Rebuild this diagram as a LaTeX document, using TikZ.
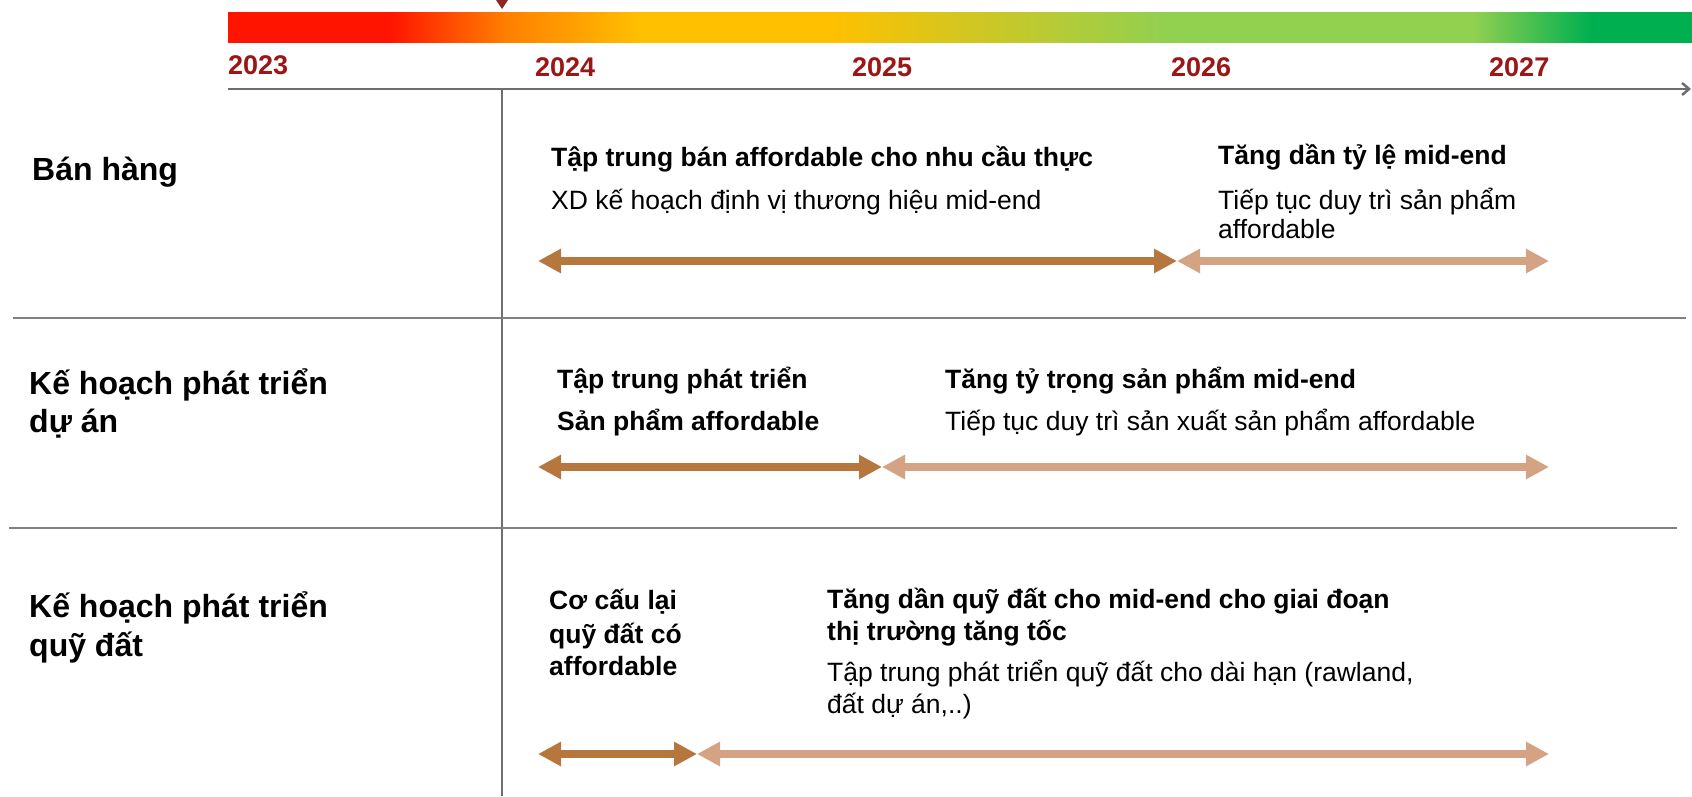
\documentclass[tikz,border=0pt]{standalone}
\usepackage{fontspec}
\setmainfont{Liberation Sans}
\usetikzlibrary{arrows.meta}

\definecolor{barRed}{HTML}{FF1400}
\definecolor{barOrange}{HTML}{FF7F00}
\definecolor{barYellow}{HTML}{FFC000}
\definecolor{barLime}{HTML}{92D050}
\definecolor{barGreen}{HTML}{00B050}
\definecolor{yearRed}{HTML}{9C1616}
\definecolor{markRed}{HTML}{8E2424}
\definecolor{axisGray}{HTML}{6E6E6E}
\definecolor{ruleGray}{HTML}{808080}
\definecolor{arrowDark}{HTML}{B5773E}
\definecolor{arrowLight}{HTML}{D4A384}

% colour scale of the year bar (central 50bp are mapped onto the bar)
\pgfdeclarehorizontalshading{yearbar}{100bp}{%
  color(0bp)=(barRed); color(30.5bp)=(barRed);
  color(34.5bp)=(barOrange); color(39.1bp)=(barYellow);
  color(45.6bp)=(barYellow); color(57bp)=(barLime);
  color(67.5bp)=(barLime); color(71.5bp)=(barGreen);
  color(100bp)=(barGreen)}

\tikzset{
  rowtitle/.style={anchor=base west, inner sep=0pt,
    font=\fontsize{32}{38}\selectfont\bfseries},
  headtext/.style={anchor=base west, inner sep=0pt,
    font=\fontsize{26.5}{32}\selectfont\bfseries},
  bodytext/.style={anchor=base west, inner sep=0pt,
    font=\fontsize{26.5}{32}\selectfont},
  yearlabel/.style={anchor=base west, inner sep=0pt, text=yearRed,
    font=\fontsize{27}{32}\selectfont\bfseries},
  phasedark/.style={draw=arrowDark, line width=8pt,
    {Triangle[length=23pt,width=23pt]}-{Triangle[length=23pt,width=23pt]}},
  phaselight/.style={draw=arrowLight, line width=8pt,
    {Triangle[length=23pt,width=23pt]}-{Triangle[length=23pt,width=23pt]}},
  gridrule/.style={draw=ruleGray, line width=1.5pt},
}

\begin{document}
\begin{tikzpicture}[x=1pt, y=-1pt]
\useasboundingbox (0,0) rectangle (1692,796);
\fill[white] (0,0) rectangle (1692,796);

% year bar and current-position marker
\shade[shading=yearbar] (228,12) rectangle (1692,42);
\fill[markRed] (496,0) -- (508,0) -- (502,9) -- cycle;

% years
\node[yearlabel] (y2023) at (228,74.5) {2023};
\node[yearlabel] (y2024) at (535,76) {2024};
\node[yearlabel] (y2025) at (852,76) {2025};
\node[yearlabel] (y2026) at (1171,76) {2026};
\node[yearlabel] (y2027) at (1489,76) {2027};

% time axis and grid
\coordinate (axisL) at (228,89);
\coordinate (axisR) at (1691,89);
\coordinate (nowTop) at (502,89);
\coordinate (nowBot) at (502,796);
\draw[draw=axisGray, line width=2.5pt, -{Straight Barb[length=7pt,width=12pt]}] (axisL) -- (axisR);
\draw[draw=axisGray, line width=1.5pt] (nowTop) -- (nowBot);
\coordinate (sepAL) at (13,318);
\coordinate (sepAR) at (1686,318);
\coordinate (sepBL) at (9,528);
\coordinate (sepBR) at (1677,528);
\draw[gridrule] (sepAL) -- (sepAR);
\draw[gridrule] (sepBL) -- (sepBR);

% row titles
\node[rowtitle] (salesT) at (32,180) {Bán hàng};
\node[rowtitle] (projT1) at (29,394) {Kế hoạch phát triển};
\node[rowtitle] (projT2) at (29,432) {dự án};
\node[rowtitle] (landT1) at (29,617) {Kế hoạch phát triển};
\node[rowtitle] (landT2) at (29,656) {quỹ đất};

% sales row
\node[headtext] (salesA1) at (551,166) {Tập trung bán affordable cho nhu cầu thực};
\node[bodytext] (salesA2) at (551,209.5) {XD kế hoạch định vị thương hiệu mid-end};
\node[headtext] (salesB1) at (1218,164) {Tăng dần tỷ lệ mid-end};
\node[bodytext] (salesB2) at (1218,209) {Tiếp tục duy trì sản phẩm};
\node[bodytext] (salesB3) at (1218,238.5) {affordable};
\coordinate (salesS) at (538,261);
\coordinate (salesM) at (1177,261);
\coordinate (salesE) at (1549,261);
\draw[phasedark] (salesS) -- (salesM);
\draw[phaselight] (salesM) -- (salesE);

% project development row
\node[headtext] (projA1) at (557,388) {Tập trung phát triển};
\node[headtext] (projA2) at (557,430) {Sản phẩm affordable};
\node[headtext] (projB1) at (945,388) {Tăng tỷ trọng sản phẩm mid-end};
\node[bodytext] (projB2) at (945,430) {Tiếp tục duy trì sản xuất sản phẩm affordable};
\coordinate (projS) at (538,467);
\coordinate (projM) at (882,467);
\coordinate (projE) at (1549,467);
\draw[phasedark] (projS) -- (projM);
\draw[phaselight] (projM) -- (projE);

% land bank row
\node[headtext] (landA1) at (549,609) {Cơ cấu lại};
\node[headtext] (landA2) at (549,643) {quỹ đất có};
\node[headtext] (landA3) at (549,675) {affordable};
\node[headtext] (landB1) at (827,608) {Tăng dần quỹ đất cho mid-end cho giai đoạn};
\node[headtext] (landB2) at (827,640) {thị trường tăng tốc};
\node[bodytext] (landB3) at (827,681) {Tập trung phát triển quỹ đất cho dài hạn (rawland,};
\node[bodytext] (landB4) at (827,713) {đất dự án,..)};
\coordinate (landS) at (538,754);
\coordinate (landM) at (697,754);
\coordinate (landE) at (1549,754);
\draw[phasedark] (landS) -- (landM);
\draw[phaselight] (landM) -- (landE);
\end{tikzpicture}
\end{document}
